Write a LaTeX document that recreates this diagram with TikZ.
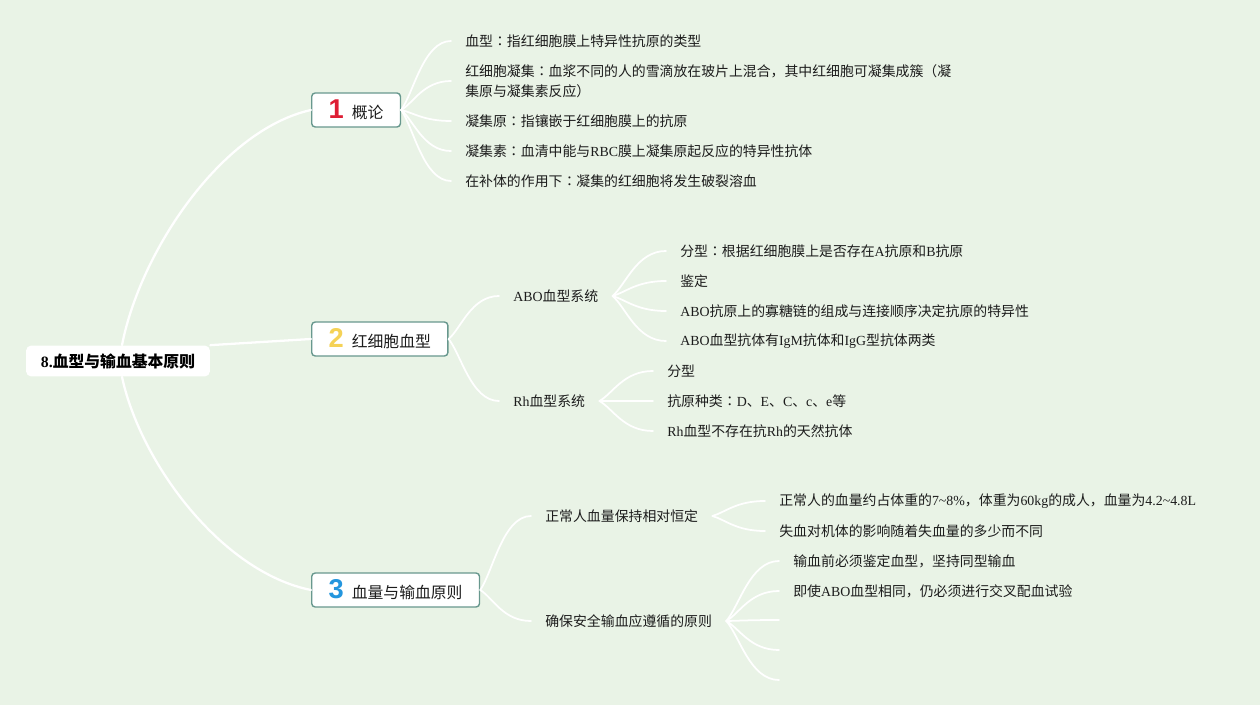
\documentclass[tikz,border=0pt]{standalone}
\usepackage{fontspec}
\setmainfont{Noto Sans CJK SC}
\newfontfamily\latinfont{Liberation Serif}
\newfontfamily\numfont{Liberation Sans}
\newfontfamily\tcfont{Noto Sans CJK TC}
\usetikzlibrary{calc}
\definecolor{mapbg}{RGB}{233,243,230}
\definecolor{mapbox}{RGB}{104,152,142}
\definecolor{maptext}{RGB}{28,28,28}
\definecolor{numred}{RGB}{222,30,52}
\definecolor{numyellow}{RGB}{245,210,86}
\definecolor{numblue}{RGB}{36,150,222}
\newcommand\la[1]{{\latinfont #1}}
\newcommand\cc{{\tcfont ：}}
\newcommand\topicnum[2]{{\numfont\bfseries\fontsize{15.5}{15.5}\selectfont\color{#1}#2}\hspace{0.16cm}}
\tikzset{
  mroot/.style ={rectangle, rounded corners=3pt, fill=white, minimum width=3.68cm,
                 minimum height=0.62cm, font=\fontsize{9}{11}\selectfont\bfseries, text=black},
  mtopic/.style={rectangle, rounded corners=2pt, draw=mapbox, fill=white, line width=0.8pt,
                 minimum height=0.68cm, inner xsep=0.34cm, anchor=west,
                 font=\fontsize{9}{11}\selectfont, text=maptext},
  mleaf/.style ={anchor=west, inner xsep=0.28cm, inner ysep=1pt, align=left,
                 font=\fontsize{7.9}{11.4}\selectfont, text=maptext},
  gtrunk/.style={line width=1.3pt, white, line cap=round},
  gfan/.style  ={line width=1pt, white, line cap=round},
  fan/.style   ={to path={.. controls ($(\tikztostart)!0.25!(\tikztotarget)$)
                  and ($(\tikztostart|-\tikztotarget)!0.45!(\tikztotarget)$) .. (\tikztotarget)}},
}
\begin{document}
\begin{tikzpicture}[x=0.02cm, y=-0.02cm]
\fill[mapbg] (0,0) rectangle (1260,705);
\useasboundingbox (0,0) rectangle (1260,705);

\node[mroot] (root) at (118,361) {\la{8.}血型与输血基本原则};
\node[mtopic] (t1) at (311,110) {\topicnum{numred}{1}概论};
\node[mtopic] (t2) at (311,339) {\topicnum{numyellow}{2}红细胞血型};
\node[mtopic] (t3) at (311,590) {\topicnum{numblue}{3}血量与输血原则};

% 1 概论
\node[mleaf] (a1) at (451,41)  {血型\cc 指红细胞膜上特异性抗原的类型};
\node[mleaf] (a2) at (451,81)  {红细胞凝集\cc 血浆不同的人的雪滴放在玻片上混合，其中红细胞可凝集成簇（凝\\集原与凝集素反应）};
\node[mleaf] (a3) at (451,121) {凝集原\cc 指镶嵌于红细胞膜上的抗原};
\node[mleaf] (a4) at (451,151) {凝集素\cc 血清中能与\la{RBC}膜上凝集原起反应的特异性抗体};
\node[mleaf] (a5) at (451,181) {在补体的作用下\cc 凝集的红细胞将发生破裂溶血};

% 2 红细胞血型
\node[mleaf] (abo) at (499,296) {\la{ABO}血型系统};
\node[mleaf] (rh)  at (499,401) {\la{Rh}血型系统};
\node[mleaf] (b1) at (666,251) {分型\cc 根据红细胞膜上是否存在\la{A}抗原和\la{B}抗原};
\node[mleaf] (b2) at (666,281) {鉴定};
\node[mleaf] (b3) at (666,311) {\la{ABO}抗原上的寡糖链的组成与连接顺序决定抗原的特异性};
\node[mleaf] (b4) at (666,341) {\la{ABO}血型抗体有\la{IgM}抗体和\la{IgG}型抗体两类};
\node[mleaf] (r1) at (653,371) {分型};
\node[mleaf] (r2) at (653,401) {抗原种类\cc\la{D}、\la{E}、\la{C}、\la{c}、\la{e}等};
\node[mleaf] (r3) at (653,431) {\la{Rh}血型不存在抗\la{Rh}的天然抗体};

% 3 血量与输血原则
\node[mleaf] (vol)  at (531,516) {正常人血量保持相对恒定};
\node[mleaf] (safe) at (531,621) {确保安全输血应遵循的原则};
\node[mleaf] (v1) at (765,501) {正常人的血量约占体重的\la{7\textasciitilde8\%}，体重为\la{60kg}的成人，血量为\la{4.2\textasciitilde4.8L}};
\node[mleaf] (v2) at (765,531) {失血对机体的影响随着失血量的多少而不同};
\node[mleaf] (s1) at (779,561) {输血前必须鉴定血型，坚持同型输血};
\node[mleaf] (s2) at (779,591) {即使\la{ABO}血型相同，仍必须进行交叉配血试验};
\coordinate (s3) at (779,620);
\coordinate (s4) at (779,650);
\coordinate (s5) at (779,680);

\draw[gtrunk] ($(root.north)+(4,0)$) .. controls +(18,-93) and +(-90,20) .. (t1.west);
\draw[gtrunk] (root.north east) -- (t2.west);
\draw[gtrunk] ($(root.south)+(4,0)$) .. controls +(18,85) and +(-90,-18) .. (t3.west);

\foreach \c in {a1,a2,a3,a4,a5} \draw[gfan] (t1.east) to[fan] (\c.west);
\foreach \c in {abo,rh} \draw[gfan] (t2.east) to[fan] (\c.west);
\foreach \c in {b1,b2,b3,b4} \draw[gfan] (abo.east) to[fan] (\c.west);
\foreach \c in {r1,r2,r3} \draw[gfan] (rh.east) to[fan] (\c.west);
\foreach \c in {vol,safe} \draw[gfan] (t3.east) to[fan] (\c.west);
\foreach \c in {v1,v2} \draw[gfan] (vol.east) to[fan] (\c.west);
\foreach \c in {s1,s2} \draw[gfan] (safe.east) to[fan] (\c.west);
\foreach \c in {s3,s4,s5} \draw[gfan] (safe.east) to[fan] (\c);
\end{tikzpicture}
\end{document}
